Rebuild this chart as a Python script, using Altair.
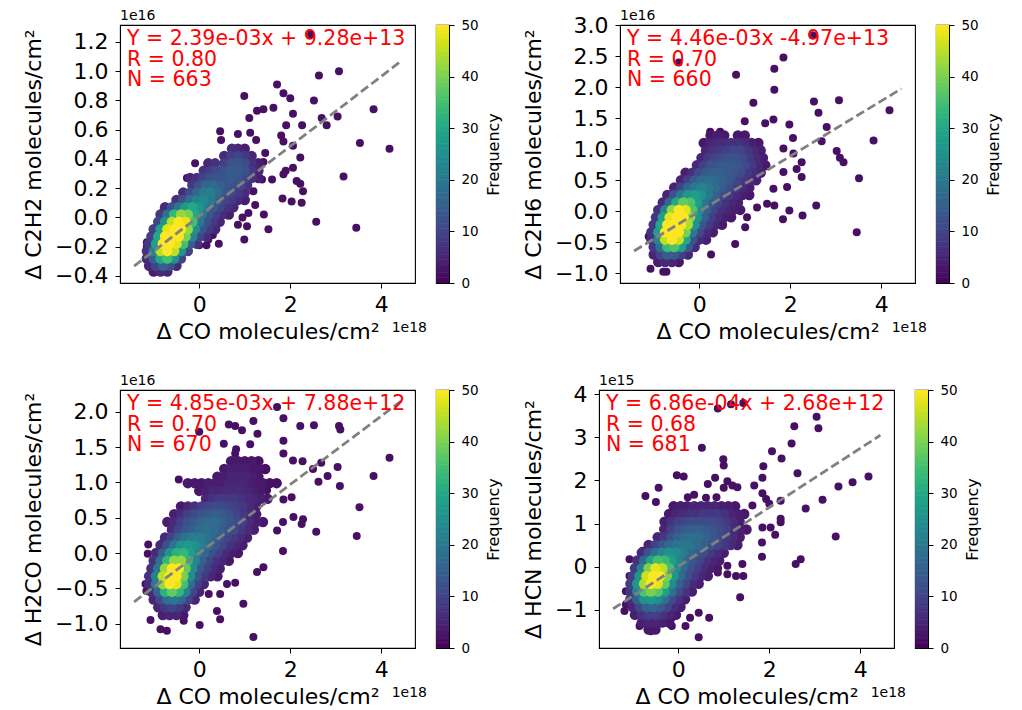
import altair as alt
import pandas as pd

FONT = "DejaVu Sans"

# ---------------- shared axis values ----------------
X_DOMAIN = [-1.74, 4.74]
X_TICKS = [0, 2, 4]
X_TITLE = "Δ CO molecules/cm²"
X_EXP = "1e18"
X_UNIT = 1e18
LINE_X = [-1.43, 4.44]

Y_TITLES = ["Δ C2H2 molecules/cm²", "Δ C2H6 molecules/cm²",
            "Δ H2CO molecules/cm²", "Δ HCN molecules/cm²"]
Y_DOMAINS = [[-0.448, 1.316], [-1.16, 3.005], [-1.346, 2.31], [-1.89, 4.10]]
Y_TICKS = [[-0.4, -0.2, 0.0, 0.2, 0.4, 0.6, 0.8, 1.0, 1.2],
           [-1.0, -0.5, 0.0, 0.5, 1.0, 1.5, 2.0, 2.5, 3.0],
           [-1.0, -0.5, 0.0, 0.5, 1.0, 1.5, 2.0],
           [-1, 0, 1, 2, 3, 4]]
Y_FORMATS = [".1f", ".1f", ".1f", "d"]
Y_EXP = ["1e16", "1e16", "1e16", "1e15"]
Y_UNIT = [1e16, 1e16, 1e16, 1e15]

SLOPE_RAW = [2.39e-03, 4.46e-03, 4.85e-03, 6.86e-04]
INTERCEPT_RAW = [9.28e13, -4.97e13, 7.88e12, 2.68e12]
EQ_TEXT = ["Y = 2.39e-03x + 9.28e+13", "Y = 4.46e-03x -4.97e+13",
           "Y = 4.85e-03x + 7.88e+12", "Y = 6.86e-04x + 2.68e+12"]
R_TEXT = ["R = 0.80", "R = 0.70", "R = 0.70", "R = 0.68"]
N_TEXT = ["N = 663", "N = 660", "N = 670", "N = 681"]

CBAR_TICKS = [0, 10, 20, 30, 40, 50]
SPARSE_FREQ = 2

# ---------------- panel 1: C2H2 ----------------
P1_SPARSE = [
    (2.43, 1.25), (2.63, 0.97), (3.07, 1.00), (1.71, 0.91), (0.99, 0.83), (1.85, 0.85), (2.00, 0.815),
    (2.52, 0.80), (1.63, 0.75), (1.41, 0.74), (1.27, 0.73), (1.10, 0.68), (2.06, 0.71), (2.69, 0.68),
    (3.04, 0.69), (3.83, 0.74), (2.80, 0.63), (2.26, 0.63), (1.91, 0.63), (1.80, 0.56), (1.85, 0.52),
    (2.06, 0.49), (3.53, 0.51), (4.18, 0.47), (2.22, 0.41), (1.90, 0.32), (2.06, 0.34), (1.85, 0.295),
    (3.17, 0.28), (2.14, 0.25), (2.22, 0.23), (2.28, 0.18), (1.83, 0.13), (2.03, 0.11), (2.25, 0.10),
    (2.57, -0.03), (3.45, -0.07), (1.52, -0.08), (1.05, -0.06), (0.99, -0.15), (1.08, 0.03), (1.42, 0.02),
    (1.23, 0.085), (1.19, 0.18), (0.46, 0.59), (0.48, 0.53), (0.85, 0.57), (1.12, 0.58), (1.25, 0.53),
    (1.45, 0.44), (1.41, 0.38), (-0.27, 0.27), (-0.09, 0.37), (-0.82, 0.03), (-1.15, -0.17), (-1.15, -0.20),
    (0.00, -0.19), (0.16, -0.19), (0.43, -0.18), (1.38, 0.26), (1.60, 0.26), (0.20, -0.15), (0.30, -0.12),
    (0.95, 0.00), (0.85, -0.05),
]
P1_CORE = [
    (0.47, [(0.72, 6), (0.85, 5), (1.00, 4)]),
    (0.42, [(0.55, 6), (0.70, 9), (0.85, 10), (1.00, 8), (1.15, 5)]),
    (0.37, [(0.20, 5), (0.35, 7), (0.55, 9), (0.70, 12), (0.85, 13), (1.00, 11), (1.15, 7), (1.30, 4)]),
    (0.32, [(0.10, 7), (0.25, 9), (0.40, 11), (0.55, 12), (0.70, 14), (0.85, 14), (1.00, 12), (1.15, 8), (1.30, 5)]),
    (0.27, [(-0.20, 5), (-0.05, 7), (0.10, 10), (0.25, 12), (0.40, 13), (0.55, 13), (0.70, 14), (0.85, 13),
            (1.00, 10), (1.15, 7), (1.30, 4)]),
    (0.22, [(-0.15, 8), (0.00, 12), (0.15, 16), (0.30, 17), (0.45, 15), (0.60, 13), (0.75, 12), (0.90, 10), (1.05, 7)]),
    (0.17, [(-0.35, 6), (-0.20, 11), (-0.05, 16), (0.10, 20), (0.25, 21), (0.40, 17), (0.55, 13), (0.70, 10),
            (0.85, 8), (1.00, 6)]),
    (0.12, [(-0.50, 7), (-0.35, 12), (-0.20, 18), (-0.05, 22), (0.10, 23), (0.25, 20), (0.40, 15), (0.55, 10),
            (0.70, 8), (0.85, 6), (1.00, 4)]),
    (0.07, [(-0.75, 6), (-0.60, 12), (-0.45, 20), (-0.30, 27), (-0.15, 30), (0.00, 26), (0.15, 20), (0.30, 14),
            (0.45, 10), (0.60, 7), (0.75, 5)]),
    (0.02, [(-0.85, 8), (-0.70, 18), (-0.55, 33), (-0.40, 42), (-0.25, 40), (-0.10, 30), (0.05, 20), (0.20, 13),
            (0.35, 9), (0.50, 6), (0.65, 4)]),
    (-0.03, [(-0.90, 10), (-0.75, 25), (-0.60, 45), (-0.45, 50), (-0.30, 48), (-0.15, 35), (0.00, 20), (0.15, 12),
             (0.30, 8), (0.45, 5)]),
    (-0.08, [(-1.00, 9), (-0.85, 28), (-0.70, 48), (-0.55, 50), (-0.40, 50), (-0.25, 42), (-0.10, 25), (0.05, 13),
             (0.20, 8), (0.35, 5)]),
    (-0.13, [(-1.05, 9), (-0.90, 30), (-0.75, 50), (-0.60, 50), (-0.45, 50), (-0.30, 40), (-0.15, 22), (0.00, 10),
             (0.15, 6)]),
    (-0.18, [(-1.10, 8), (-0.95, 28), (-0.80, 50), (-0.65, 50), (-0.50, 48), (-0.35, 35), (-0.20, 15), (-0.05, 7)]),
    (-0.23, [(-1.15, 7), (-1.00, 22), (-0.85, 45), (-0.70, 50), (-0.55, 45), (-0.40, 25), (-0.25, 10)]),
    (-0.28, [(-1.15, 6), (-1.00, 15), (-0.85, 30), (-0.70, 35), (-0.55, 25), (-0.40, 10)]),
    (-0.33, [(-1.10, 5), (-0.95, 10), (-0.80, 15), (-0.65, 12), (-0.50, 6)]),
    (-0.37, [(-1.00, 4), (-0.85, 6), (-0.70, 5)]),
]

# ---------------- panel 2: C2H6 ----------------
P2_SPARSE = [
    (2.49, 2.84), (-0.45, 2.40), (1.85, 2.48), (1.65, 2.30), (0.81, 2.20), (1.65, 1.96), (1.19, 1.75),
    (2.52, 1.77), (3.07, 1.79), (2.62, 1.59), (4.18, 1.63), (1.00, 1.45), (1.45, 1.42), (1.63, 1.48),
    (1.98, 1.40), (2.80, 1.36), (2.06, 1.18), (2.69, 1.13), (3.83, 1.14), (3.02, 0.97), (3.09, 0.86),
    (3.17, 0.79), (3.51, 0.53), (1.85, 1.01), (2.07, 0.93), (2.25, 0.79), (2.14, 0.68), (1.85, 0.63),
    (2.25, 0.55), (1.93, 0.39), (1.63, 0.36), (1.27, 0.06), (1.49, 0.12), (1.65, 0.09), (1.98, 0.01),
    (2.27, -0.07), (2.57, 0.09), (1.84, -0.13), (3.46, -0.34), (1.05, -0.10), (1.01, -0.26), (0.79, -0.53),
    (0.26, -0.70), (0.24, 1.28), (0.46, 1.28), (0.26, 1.10), (0.43, 1.15), (1.25, 1.10), (-1.07, -0.93),
    (-0.79, -0.98), (-0.72, -0.98), (-1.11, -0.41), (-0.71, 0.24), (-0.27, 0.49),
]
P2_CORE = [
    (1.22, [(0.25, 3), (0.40, 4), (0.55, 3), (0.85, 3), (1.00, 3)]),
    (1.10, [(0.10, 3), (0.25, 5), (0.40, 6), (0.55, 6), (0.70, 7), (0.85, 7), (1.00, 6), (1.15, 4), (1.30, 3)]),
    (0.98, [(0.15, 5), (0.30, 7), (0.45, 8), (0.60, 9), (0.75, 10), (0.90, 10), (1.05, 8), (1.20, 6), (1.35, 4)]),
    (0.86, [(0.05, 5), (0.20, 8), (0.35, 10), (0.50, 11), (0.65, 12), (0.80, 12), (0.95, 11), (1.10, 8),
            (1.25, 6), (1.40, 4)]),
    (0.74, [(-0.05, 6), (0.10, 9), (0.25, 12), (0.40, 13), (0.55, 14), (0.70, 14), (0.85, 13), (1.00, 11),
            (1.15, 8), (1.30, 5), (1.45, 3)]),
    (0.62, [(-0.30, 4), (-0.15, 7), (0.00, 11), (0.15, 14), (0.30, 15), (0.45, 15), (0.60, 14), (0.75, 13),
            (0.90, 11), (1.05, 8), (1.20, 6), (1.35, 4)]),
    (0.50, [(-0.40, 5), (-0.25, 9), (-0.10, 14), (0.05, 17), (0.20, 18), (0.35, 17), (0.50, 15), (0.65, 13),
            (0.80, 10), (0.95, 8), (1.10, 6), (1.25, 4)]),
    (0.38, [(-0.55, 5), (-0.40, 10), (-0.25, 16), (-0.10, 20), (0.05, 22), (0.20, 20), (0.35, 17), (0.50, 14),
            (0.65, 11), (0.80, 8), (0.95, 6), (1.10, 4)]),
    (0.26, [(-0.70, 5), (-0.55, 12), (-0.40, 20), (-0.25, 26), (-0.10, 28), (0.05, 25), (0.20, 20), (0.35, 15),
            (0.50, 11), (0.65, 8), (0.80, 6), (0.95, 4), (1.10, 3)]),
    (0.14, [(-0.80, 6), (-0.65, 16), (-0.50, 30), (-0.35, 38), (-0.20, 36), (-0.05, 28), (0.10, 20), (0.25, 14),
            (0.40, 10), (0.55, 7), (0.70, 5), (0.85, 4)]),
    (0.02, [(-0.90, 7), (-0.75, 22), (-0.60, 42), (-0.45, 50), (-0.30, 48), (-0.15, 36), (0.00, 24), (0.15, 15),
            (0.30, 10), (0.45, 7), (0.60, 5), (0.75, 4), (0.90, 3)]),
    (-0.10, [(-0.95, 8), (-0.80, 28), (-0.65, 48), (-0.50, 50), (-0.35, 50), (-0.20, 42), (-0.05, 26), (0.10, 15),
             (0.25, 9), (0.40, 6), (0.55, 4), (0.70, 3)]),
    (-0.22, [(-1.00, 8), (-0.85, 30), (-0.70, 50), (-0.55, 50), (-0.40, 50), (-0.25, 44), (-0.10, 26), (0.05, 13),
             (0.20, 8), (0.35, 5), (0.50, 3)]),
    (-0.34, [(-1.05, 7), (-0.90, 28), (-0.75, 50), (-0.60, 50), (-0.45, 50), (-0.30, 40), (-0.15, 20), (0.00, 10),
             (0.15, 6), (0.30, 4)]),
    (-0.46, [(-1.05, 6), (-0.90, 22), (-0.75, 45), (-0.60, 50), (-0.45, 46), (-0.30, 30), (-0.15, 12), (0.00, 6),
             (0.15, 4)]),
    (-0.58, [(-1.00, 8), (-0.85, 18), (-0.70, 34), (-0.55, 36), (-0.40, 28), (-0.25, 14), (-0.10, 6)]),
    (-0.70, [(-1.00, 5), (-0.85, 10), (-0.70, 15), (-0.55, 14), (-0.40, 9), (-0.25, 5)]),
    (-0.82, [(-0.90, 4), (-0.75, 6), (-0.60, 5), (-0.45, 3)]),
]

# ---------------- panel 3: H2CO ----------------
P3_SPARSE = [
    (1.71, 2.07), (1.19, 1.87), (1.85, 1.91), (2.22, 1.80), (2.52, 1.81), (3.07, 1.80), (3.10, 1.75),
    (0.65, 1.82), (0.79, 1.80), (0.94, 1.74), (0.00, 1.72), (1.28, 1.69), (1.85, 1.59), (0.54, 1.55),
    (0.81, 1.47), (0.79, 1.41), (1.12, 1.54), (1.85, 1.41), (2.06, 1.31), (2.27, 1.30), (2.50, 1.19),
    (2.68, 1.28), (3.04, 1.22), (4.18, 1.35), (2.82, 1.09), (2.62, 1.01), (3.09, 0.95), (3.83, 1.09),
    (3.52, 0.65), (3.46, 0.24), (2.57, 0.30), (-0.45, 1.04), (1.49, 0.89), (1.85, 0.76), (2.03, 0.79),
    (2.07, 0.51), (2.28, 0.48), (2.25, 0.41), (1.84, 0.44), (1.71, 0.32), (1.84, 0.03), (1.41, -0.20),
    (1.27, -0.27), (0.97, -0.72), (1.19, -1.19), (0.01, -1.02), (-0.34, -0.96), (-0.71, -1.10), (-0.85, -1.08),
    (-1.07, -0.95), (-1.12, 0.12), (-0.80, 0.15), (-1.13, -0.01), (-0.89, -0.08), (-1.18, -0.44), (-1.16, -0.54),
    (0.79, -0.42), (0.61, -0.44), (0.46, -0.58), (0.21, -0.58), (0.39, -0.82), (0.46, -0.94), (0.01, -0.49),
]
P3_CORE = [
    (1.30, [(0.70, 3), (0.85, 3), (1.00, 3), (1.15, 3), (1.30, 2)]),
    (1.19, [(0.55, 3), (0.70, 4), (0.85, 4), (1.00, 4), (1.15, 3), (1.30, 3), (1.45, 2)]),
    (1.08, [(0.40, 3), (0.55, 4), (0.70, 5), (0.85, 5), (1.00, 5), (1.15, 4), (1.30, 3)]),
    (0.99, [(-0.25, 3), (-0.10, 3), (0.05, 3), (0.20, 4), (0.35, 4), (0.50, 4), (0.65, 5), (0.80, 5), (0.95, 5),
            (1.10, 4), (1.25, 3), (1.40, 3), (1.55, 2), (1.70, 2)]),
    (0.88, [(0.00, 3), (0.15, 4), (0.30, 5), (0.45, 5), (0.60, 6), (0.75, 6), (0.90, 6), (1.05, 5), (1.20, 4), (1.35, 3)]),
    (0.77, [(0.15, 5), (0.30, 7), (0.45, 8), (0.60, 8), (0.75, 8), (0.90, 7), (1.05, 6), (1.20, 5), (1.35, 4), (1.50, 3)]),
    (0.66, [(-0.40, 3), (-0.25, 5), (-0.10, 7), (0.05, 9), (0.20, 10), (0.35, 11), (0.50, 11), (0.65, 10),
            (0.80, 9), (0.95, 8), (1.10, 6), (1.25, 4)]),
    (0.55, [(-0.55, 4), (-0.40, 6), (-0.25, 9), (-0.10, 11), (0.05, 13), (0.20, 14), (0.35, 15), (0.50, 14),
            (0.65, 12), (0.80, 10), (0.95, 8), (1.10, 6), (1.25, 4)]),
    (0.44, [(-0.70, 4), (-0.55, 6), (-0.40, 9), (-0.25, 12), (-0.10, 14), (0.05, 16), (0.20, 17), (0.35, 17),
            (0.50, 15), (0.65, 13), (0.80, 11), (0.95, 9), (1.10, 6), (1.25, 4), (1.40, 3)]),
    (0.33, [(-0.60, 6), (-0.45, 10), (-0.30, 13), (-0.15, 15), (0.00, 17), (0.15, 18), (0.30, 17), (0.45, 15),
            (0.60, 13), (0.75, 11), (0.90, 8), (1.05, 6), (1.20, 4)]),
    (0.22, [(-0.75, 6), (-0.60, 10), (-0.45, 15), (-0.30, 19), (-0.15, 21), (0.00, 21), (0.15, 19), (0.30, 16),
            (0.45, 13), (0.60, 10), (0.75, 8), (0.90, 6), (1.05, 4)]),
    (0.11, [(-0.85, 6), (-0.70, 12), (-0.55, 19), (-0.40, 25), (-0.25, 27), (-0.10, 25), (0.05, 21), (0.20, 17),
            (0.35, 13), (0.50, 10), (0.65, 7), (0.80, 5), (0.95, 4)]),
    (0.00, [(-0.95, 6), (-0.80, 14), (-0.65, 25), (-0.50, 32), (-0.35, 33), (-0.20, 28), (-0.05, 22), (0.10, 16),
            (0.25, 12), (0.40, 9), (0.55, 6), (0.70, 4), (0.85, 3)]),
    (-0.11, [(-1.00, 7), (-0.85, 18), (-0.70, 33), (-0.55, 42), (-0.40, 42), (-0.25, 33), (-0.10, 23), (0.05, 15),
             (0.20, 10), (0.35, 7), (0.50, 5), (0.65, 3)]),
    (-0.22, [(-1.05, 7), (-0.90, 20), (-0.75, 42), (-0.60, 50), (-0.45, 50), (-0.30, 38), (-0.15, 24), (0.00, 14),
             (0.15, 9), (0.30, 6), (0.45, 4)]),
    (-0.33, [(-1.10, 7), (-0.95, 22), (-0.80, 45), (-0.65, 50), (-0.50, 50), (-0.35, 40), (-0.20, 24), (-0.05, 13),
             (0.10, 8), (0.25, 5), (0.40, 3)]),
    (-0.44, [(-1.10, 6), (-0.95, 20), (-0.80, 42), (-0.65, 50), (-0.50, 48), (-0.35, 35), (-0.20, 18), (-0.05, 9),
             (0.10, 5)]),
    (-0.55, [(-1.05, 6), (-0.90, 16), (-0.75, 32), (-0.60, 38), (-0.45, 33), (-0.30, 22), (-0.15, 10), (0.00, 5)]),
    (-0.66, [(-1.00, 5), (-0.85, 11), (-0.70, 18), (-0.55, 20), (-0.40, 16), (-0.25, 10), (-0.10, 5)]),
    (-0.77, [(-0.90, 5), (-0.75, 8), (-0.60, 10), (-0.45, 8), (-0.30, 5)]),
    (-0.88, [(-0.80, 4), (-0.65, 5), (-0.50, 5), (-0.35, 3)]),
]

# ---------------- panel 4: HCN ----------------
P4_SPARSE = [
    (0.87, 3.67), (1.16, 3.77), (1.43, 3.80), (3.04, 3.48), (3.08, 3.21), (2.55, 3.26), (2.49, 2.86),
    (0.52, 2.76), (2.06, 2.68), (2.27, 2.51), (0.99, 2.49), (1.00, 2.35), (1.87, 2.33), (2.62, 2.17),
    (-0.03, 2.12), (0.12, 2.09), (1.85, 2.06), (1.67, 1.88), (0.81, 2.06), (0.65, 1.92), (1.08, 1.98),
    (1.19, 1.88), (1.30, 1.84), (1.00, 1.83), (4.18, 2.09), (3.83, 1.96), (3.52, 1.86), (-0.43, 1.83),
    (-0.72, 1.64), (-0.49, 1.50), (0.21, 1.61), (0.35, 1.67), (0.61, 1.60), (0.84, 1.61), (1.85, 1.70),
    (1.93, 1.57), (2.00, 1.46), (1.63, 1.42), (2.25, 1.53), (3.17, 1.55), (2.80, 1.35), (2.25, 1.11),
    (2.25, 1.03), (3.46, 0.70), (1.85, 0.91), (2.03, 0.91), (2.13, 0.74), (1.84, 0.56), (1.84, 0.23),
    (1.41, 0.06), (2.58, 0.06), (2.69, 0.17), (1.08, 0.02), (1.08, -0.18), (1.27, -0.22), (1.43, -0.22),
    (1.36, -0.71), (0.68, -1.19), (0.45, -1.07), (0.26, -1.19), (0.45, -1.64), (0.16, -1.38), (-0.14, -1.38),
    (-0.14, -1.19), (-0.60, -1.50), (-0.85, -1.38), (-1.07, 0.17), (-1.07, -0.22), (-0.78, 0.37), (-0.33, 0.87),
    (-0.28, 0.80), (-1.15, -0.57), (-1.15, -0.88), (-1.18, -1.03), (0.02, -0.57), (0.06, -0.88), (0.83, 0.06),
    (0.87, -0.14),
]
P4_CORE = [
    (1.40, [(-0.10, 3), (0.05, 4), (0.20, 4), (0.35, 5), (0.50, 5), (0.65, 5), (0.80, 5), (0.95, 4), (1.10, 4), (1.25, 3)]),
    (1.22, [(-0.20, 3), (-0.05, 5), (0.10, 6), (0.25, 7), (0.40, 7), (0.55, 8), (0.70, 8), (0.85, 8), (1.00, 7),
            (1.15, 5), (1.30, 4), (1.45, 3)]),
    (1.04, [(-0.30, 4), (-0.15, 7), (0.00, 9), (0.15, 10), (0.30, 11), (0.45, 11), (0.60, 11), (0.75, 11),
            (0.90, 10), (1.05, 8), (1.20, 6), (1.35, 4)]),
    (0.86, [(-0.30, 5), (-0.15, 9), (0.00, 12), (0.15, 14), (0.30, 15), (0.45, 15), (0.60, 14), (0.75, 13),
            (0.90, 11), (1.05, 9), (1.20, 6), (1.35, 4), (1.50, 3)]),
    (0.68, [(-0.45, 5), (-0.30, 8), (-0.15, 12), (0.00, 15), (0.15, 17), (0.30, 18), (0.45, 17), (0.60, 15),
            (0.75, 13), (0.90, 11), (1.05, 8), (1.20, 6), (1.35, 4)]),
    (0.50, [(-0.65, 5), (-0.50, 9), (-0.35, 13), (-0.20, 17), (-0.05, 19), (0.10, 20), (0.25, 19), (0.40, 17),
            (0.55, 15), (0.70, 12), (0.85, 10), (1.00, 8), (1.15, 6), (1.30, 4)]),
    (0.32, [(-0.80, 6), (-0.65, 12), (-0.50, 18), (-0.35, 23), (-0.20, 25), (-0.05, 24), (0.10, 21), (0.25, 17),
            (0.40, 14), (0.55, 11), (0.70, 8), (0.85, 6), (1.00, 4)]),
    (0.14, [(-0.90, 7), (-0.75, 16), (-0.60, 28), (-0.45, 35), (-0.30, 34), (-0.15, 28), (0.00, 22), (0.15, 17),
            (0.30, 13), (0.45, 10), (0.60, 7), (0.75, 5), (0.90, 4)]),
    (-0.04, [(-0.95, 8), (-0.80, 22), (-0.65, 40), (-0.50, 48), (-0.35, 45), (-0.20, 35), (-0.05, 24), (0.10, 17),
             (0.25, 12), (0.40, 9), (0.55, 6), (0.70, 4), (0.85, 3)]),
    (-0.22, [(-1.00, 9), (-0.85, 26), (-0.70, 46), (-0.55, 50), (-0.40, 50), (-0.25, 40), (-0.10, 26), (0.05, 17),
             (0.20, 11), (0.35, 8), (0.50, 5), (0.65, 4)]),
    (-0.40, [(-1.05, 9), (-0.90, 26), (-0.75, 44), (-0.60, 50), (-0.45, 48), (-0.30, 38), (-0.15, 24), (0.00, 15),
             (0.15, 10), (0.30, 6), (0.45, 4)]),
    (-0.58, [(-1.05, 8), (-0.90, 22), (-0.75, 36), (-0.60, 40), (-0.45, 37), (-0.30, 28), (-0.15, 18), (0.00, 11),
             (0.15, 7), (0.30, 4)]),
    (-0.76, [(-1.05, 6), (-0.90, 15), (-0.75, 25), (-0.60, 27), (-0.45, 24), (-0.30, 18), (-0.15, 11), (0.00, 7),
             (0.15, 4)]),
    (-0.94, [(-1.00, 5), (-0.85, 10), (-0.70, 15), (-0.55, 16), (-0.40, 14), (-0.25, 10), (-0.10, 6), (0.05, 4)]),
    (-1.12, [(-0.95, 4), (-0.80, 7), (-0.65, 9), (-0.50, 9), (-0.35, 7), (-0.20, 5), (-0.05, 3)]),
    (-1.30, [(-0.80, 4), (-0.65, 5), (-0.50, 5), (-0.35, 4), (-0.20, 3)]),
    (-1.46, [(-0.65, 3), (-0.50, 3)]),
]

SPARSE = [P1_SPARSE, P2_SPARSE, P3_SPARSE, P4_SPARSE]
CORES = [P1_CORE, P2_CORE, P3_CORE, P4_CORE]

PW, PH = 295, 258
CB_W = 13


def points_frame(i):
    rows = [{"x": x, "y": y, "f": SPARSE_FREQ, "kind": "sparse"} for x, y in SPARSE[i]]
    for y, cells in CORES[i]:
        for x, f in cells:
            rows.append({"x": x, "y": y, "f": f, "kind": "core"})
    return pd.DataFrame(rows)


def panel(i):
    xs = alt.Scale(domain=X_DOMAIN, nice=False, zero=False)
    ys = alt.Scale(domain=Y_DOMAINS[i], nice=False, zero=False)
    xaxis = alt.Axis(values=X_TICKS, format="d", title=X_TITLE, grid=False, titlePadding=6, labelPadding=6)
    yaxis = alt.Axis(values=Y_TICKS[i], format=Y_FORMATS[i], title=Y_TITLES[i], grid=False,
                     titlePadding=9, labelPadding=7)
    cscale = alt.Scale(scheme="viridis", domain=[0, 50])

    pts = alt.Chart(points_frame(i)).mark_circle(opacity=1, clip=True).encode(
        x=alt.X("x:Q", scale=xs, axis=xaxis),
        y=alt.Y("y:Q", scale=ys, axis=yaxis),
        color=alt.Color("f:Q", scale=cscale, legend=None),
        size=alt.Size("kind:N", scale=alt.Scale(domain=["sparse", "core"], range=[64, 110]), legend=None),
        order=alt.Order("f:Q", sort="ascending"),
    )
    slope = SLOPE_RAW[i] * X_UNIT / Y_UNIT[i]
    icpt = INTERCEPT_RAW[i] / Y_UNIT[i]
    line_df = pd.DataFrame({"x": LINE_X, "y": [slope * v + icpt for v in LINE_X]})
    line = alt.Chart(line_df).mark_line(color="#808080", strokeWidth=2.8, strokeDash=[9, 4], clip=True).encode(
        x=alt.X("x:Q", scale=xs, axis=xaxis),
        y=alt.Y("y:Q", scale=ys, axis=yaxis),
    )

    def txt(s, x, y, size, color, align="left"):
        return alt.Chart(pd.DataFrame({"t": [s]})).mark_text(
            align=align, baseline="alphabetic", font=FONT, fontSize=size, color=color
        ).encode(text="t:N", x=alt.value(x), y=alt.value(y))

    texts = [
        txt(EQ_TEXT[i], 7, 20, 20.5, "red"),
        txt(R_TEXT[i], 7, 40.5, 20.5, "red"),
        txt(N_TEXT[i], 7, 61, 20.5, "red"),
        txt(Y_EXP[i], 0, -5, 14, "black"),
        txt(X_EXP, PW + 12, PH + 49, 14, "black", align="right"),
    ]
    return alt.layer(pts, line, *texts).properties(width=PW, height=PH)


def colorbar():
    lo = [k * 0.5 for k in range(100)]
    df = pd.DataFrame({"lo": lo, "hi": [min(v + 0.6, 50) for v in lo], "mid": [v + 0.25 for v in lo]})
    return alt.Chart(df).mark_rect().encode(
        y=alt.Y("lo:Q", scale=alt.Scale(domain=[0, 50], nice=False, zero=False),
                axis=alt.Axis(orient="right", values=CBAR_TICKS, format="d", title="Frequency",
                              labelFontSize=13.5, titleFontSize=16, tickSize=5, labelPadding=7,
                              titleAngle=270, titleBaseline="top", titlePadding=7, grid=False)),
        y2="hi:Q",
        x=alt.value(0),
        x2=alt.value(CB_W),
        color=alt.Color("mid:Q", scale=alt.Scale(scheme="viridis", domain=[0, 50]), legend=None),
    ).properties(width=CB_W, height=PH)


def row(a, b):
    return alt.hconcat(
        alt.hconcat(panel(a), colorbar(), spacing=7),
        alt.hconcat(panel(b), colorbar(), spacing=7),
        spacing=20,
    )


chart = alt.vconcat(row(0, 1), row(2, 3), spacing=30).properties(
    padding={"left": 14, "top": 0, "right": 5, "bottom": 5}
).configure(font=FONT).configure_view(
    stroke="black", strokeWidth=1.1
).configure_axis(
    labelFont=FONT, titleFont=FONT, labelFontSize=22, titleFontSize=22,
    labelColor="black", titleColor="black", tickColor="black", domainColor="black",
    tickSize=5, tickWidth=1, domainWidth=1, titleFontWeight="normal", labelPadding=6, grid=False,
)

chart.save("out.html", embed_options={"renderer": "svg", "actions": False})
